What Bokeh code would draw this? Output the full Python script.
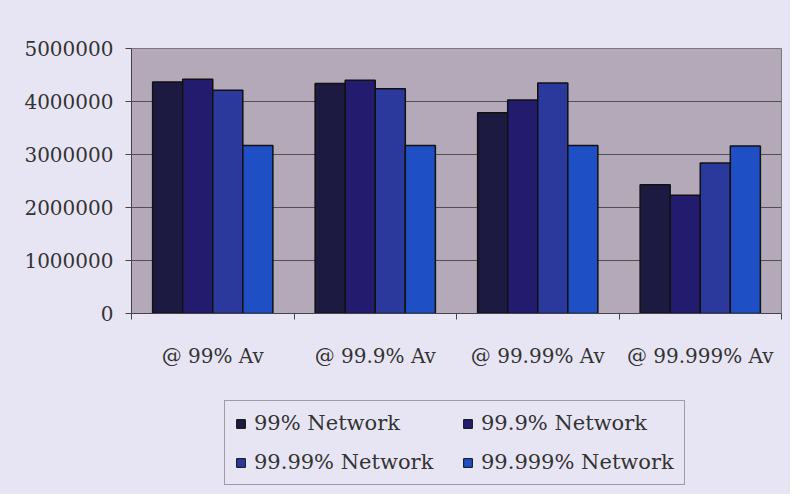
from bokeh.plotting import figure
from bokeh.models import (Range1d, FixedTicker, BasicTickFormatter, Legend, LegendItem,
                          ColumnDataSource)
from bokeh.layouts import column
from bokeh.transform import dodge
from bokeh.embed import file_html
from bokeh.resources import INLINE

categories = ["@ 99% Av", "@ 99.9% Av", "@ 99.99% Av", "@ 99.999% Av"]
series_names = ["99% Network", "99.9% Network", "99.99% Network", "99.999% Network"]
net_99 = [4370000, 4340000, 3790000, 2430000]
net_999 = [4420000, 4400000, 4030000, 2230000]
net_9999 = [4210000, 4240000, 4350000, 2840000]
net_99999 = [3170000, 3170000, 3170000, 3160000]
y_ticks = [0, 1000000, 2000000, 3000000, 4000000, 5000000]

colors = ["#1c1a40", "#231c6e", "#2b389c", "#1f4fc4"]
PAGE_BG = "#e7e5f4"
PLOT_BG = "#b3a9b8"
EDGE = "#333333"
FONT = "DejaVu Serif"

centers = [i + 0.5 for i in range(len(categories))]
source = ColumnDataSource(dict(x=centers, s0=net_99, s1=net_999, s2=net_9999, s3=net_99999))
cols = ["s0", "s1", "s2", "s3"]
bar_w = 0.185
offsets = [-1.5 * bar_w, -0.5 * bar_w, 0.5 * bar_w, 1.5 * bar_w]

# ---- thin top edge of the chart box ----
top_edge = figure(frame_width=650, frame_height=2, output_backend="svg", toolbar_location=None,
                  x_axis_type=None, y_axis_type=None,
                  x_range=Range1d(0, len(categories)), y_range=Range1d(0, 1),
                  min_border_left=131, min_border_right=1, min_border_top=0, min_border_bottom=0)
top_edge.background_fill_color = EDGE
top_edge.border_fill_color = EDGE
top_edge.outline_line_color = None

# ---- main chart ----
p = figure(frame_width=650, frame_height=265, output_backend="svg", toolbar_location=None,
           x_range=Range1d(0, len(categories)), y_range=Range1d(0, 5000000),
           min_border_left=131, min_border_right=1, min_border_top=46, min_border_bottom=79)
p.background_fill_color = PLOT_BG
p.border_fill_color = PAGE_BG
p.outline_line_color = "#7a7a7a"
p.outline_line_width = 1

for k, (col, off) in enumerate(zip(cols, offsets)):
    p.vbar(x=dodge("x", off), top=col, width=bar_w, source=source,
           fill_color=colors[k], line_color="#111111", line_width=1.5)

p.yaxis.ticker = FixedTicker(ticks=y_ticks)
p.yaxis.formatter = BasicTickFormatter(use_scientific=False)
p.yaxis.major_label_text_font = FONT
p.yaxis.major_label_text_font_size = "20px"
p.yaxis.major_label_text_color = "#333333"
p.yaxis.major_label_standoff = 12
p.yaxis.major_tick_out = 6
p.yaxis.major_tick_in = 0
p.yaxis.minor_tick_out = 0
p.yaxis.minor_tick_in = 0
p.yaxis.axis_line_color = "#444444"
p.yaxis.major_tick_line_color = "#444444"

p.xaxis.ticker = FixedTicker(ticks=centers, minor_ticks=list(range(len(categories) + 1)))
p.xaxis.major_label_overrides = {c: lab for c, lab in zip(centers, categories)}
p.xaxis.major_label_text_font = FONT
p.xaxis.major_label_text_font_size = "20px"
p.xaxis.major_label_text_color = "#333333"
p.xaxis.major_label_standoff = 24
p.xaxis.major_tick_out = 0
p.xaxis.major_tick_in = 0
p.xaxis.minor_tick_out = 6
p.xaxis.minor_tick_in = 0
p.xaxis.axis_line_color = "#444444"
p.xaxis.minor_tick_line_color = "#444444"

p.xgrid.grid_line_color = None
p.ygrid.ticker = FixedTicker(ticks=y_ticks)
p.ygrid.grid_line_color = "#505050"
p.ygrid.grid_line_width = 1

# ---- legend panel (same frame alignment as the chart) ----
lg = figure(frame_width=650, frame_height=94, output_backend="svg", toolbar_location=None,
            x_axis_type=None, y_axis_type=None,
            x_range=Range1d(0, len(categories)), y_range=Range1d(0, 5000000),
            min_border_left=131, min_border_right=1, min_border_top=0, min_border_bottom=0)
lg.background_fill_color = PAGE_BG
lg.border_fill_color = PAGE_BG
lg.outline_line_color = None
swatches = []
for k, (col, off) in enumerate(zip(cols, offsets)):
    r = lg.vbar(x=dodge("x", off), top=col, width=bar_w, source=source,
                fill_color=colors[k], line_color="#111111", line_width=1, visible=False)
    swatches.append(r)

legend = Legend(items=[LegendItem(label=n, renderers=[r]) for n, r in zip(series_names, swatches)],
                location=(93, 1), orientation="horizontal", ncols=2)
legend.label_text_font = FONT
legend.label_text_font_size = "21px"
legend.label_text_color = "#333333"
legend.glyph_width = 11
legend.glyph_height = 11
legend.label_standoff = 8
legend.label_height = 24
legend.label_width = 193
legend.spacing = 15
legend.padding = 10
legend.margin = 0
legend.border_line_color = "#555555"
legend.border_line_width = 1
legend.background_fill_color = PAGE_BG
legend.background_fill_alpha = 1
legend.inactive_fill_alpha = 0
lg.add_layout(legend, "center")

layout = column(top_edge, p, lg, spacing=0)
layout.styles = {"background-color": PAGE_BG,
                 "border-left": "2px solid " + EDGE,
                 "margin-left": "-2px",
                 "box-shadow": "0 0 0 8px " + PAGE_BG}

open("out.html", "w").write(file_html(layout, INLINE))
